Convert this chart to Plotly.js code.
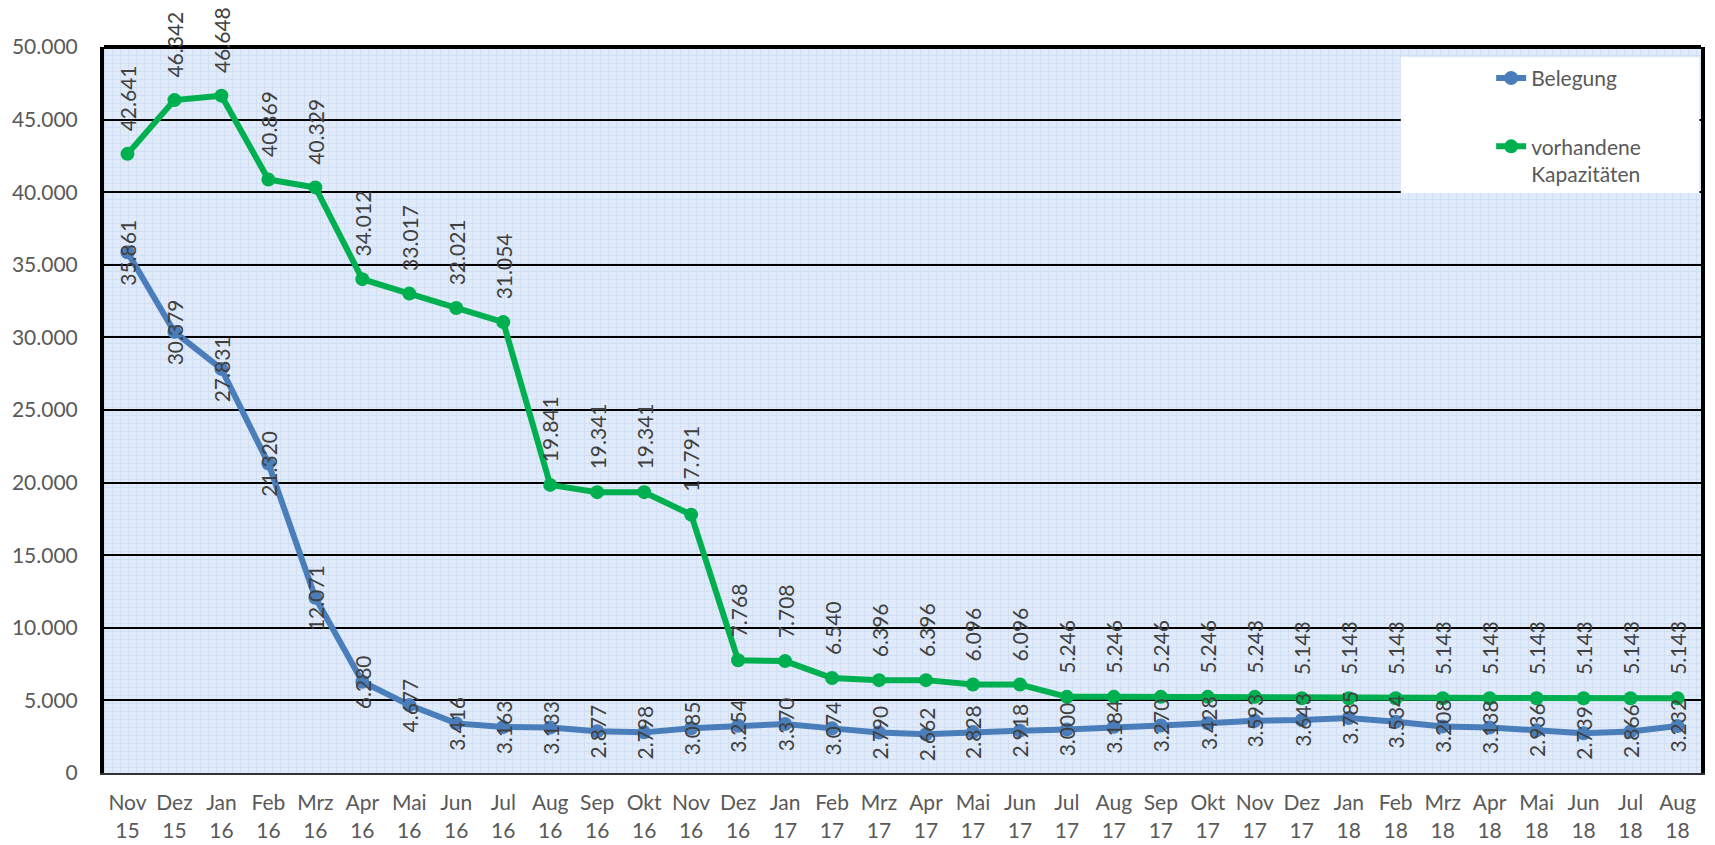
<!DOCTYPE html>
<html>
<head>
<meta charset="utf-8">
<script src="https://cdn.plot.ly/plotly-3.0.1.min.js"></script>
<style>
html,body{margin:0;padding:0;background:#fff;}
#chart{width:1715px;height:845px;}
</style>
</head>
<body>
<div id="chart"></div>
<script>
var months = ["Nov 15","Dez 15","Jan 16","Feb 16","Mrz 16","Apr 16","Mai 16","Jun 16","Jul 16","Aug 16","Sep 16","Okt 16","Nov 16","Dez 16","Jan 17","Feb 17","Mrz 17","Apr 17","Mai 17","Jun 17","Jul 17","Aug 17","Sep 17","Okt 17","Nov 17","Dez 17","Jan 18","Feb 18","Mrz 18","Apr 18","Mai 18","Jun 18","Jul 18","Aug 18"];
var belegung = [35861,30379,27831,21320,12071,6280,4677,3416,3163,3133,2877,2798,3085,3254,3370,3074,2790,2662,2828,2918,3000,3184,3270,3428,3593,3643,3785,3534,3208,3138,2936,2739,2866,3232];
var kapazitaeten = [42641,46342,46648,40869,40329,34012,33017,32021,31054,19841,19341,19341,17791,7768,7708,6540,6396,6396,6096,6096,5246,5246,5246,5246,5243,5143,5143,5143,5143,5143,5143,5143,5143,5143];
var yTicks = [0,5000,10000,15000,20000,25000,30000,35000,40000,45000,50000];

var cats = months.map(function(m){ return m.replace(" ","<br>"); });
function fmt(v){ return String(v).replace(/\B(?=(\d{3})+(?!\d))/g, "."); }

var blue = "#4a7ebb", green = "#00b050";
var traces = [
  {x: cats, y: belegung, type: "scatter", mode: "lines+markers", name: "Belegung",
   legendgroup: "a", line: {color: blue, width: 6}, marker: {color: blue, size: 14}},
  {x: cats, y: kapazitaeten, type: "scatter", mode: "lines+markers", name: "vorhandene<br>Kapazitäten",
   legendgroup: "b", line: {color: green, width: 6}, marker: {color: green, size: 14}}
];

var labelFont = {family: "Lato, 'Open Sans', sans-serif", size: 21, color: "#404040"};
var annotations = [];
cats.forEach(function(c, i){
  annotations.push({x: c, y: belegung[i], xref: "x", yref: "y", text: fmt(belegung[i]),
    showarrow: false, textangle: -90, xanchor: "center", yanchor: "middle", font: labelFont});
  annotations.push({x: c, y: kapazitaeten[i], xref: "x", yref: "y", text: fmt(kapazitaeten[i]),
    showarrow: false, textangle: -90, xanchor: "center", yanchor: "bottom", yshift: 21, font: labelFont});
});

var svg = '<svg xmlns="http://www.w3.org/2000/svg" width="1597" height="726" preserveAspectRatio="none">' +
  '<defs><pattern id="p" width="8" height="8" patternUnits="userSpaceOnUse">' +
  '<rect width="8" height="8" fill="#e0eaf8"/>' +
  '<rect x="0" y="0" width="8" height="1" fill="#d0dff4"/>' +
  '<rect x="0" y="0" width="1" height="8" fill="#d0dff4"/>' +
  '<rect x="4" y="4" width="1" height="1" fill="#d8e4f6"/>' +
  '</pattern></defs><rect width="1597" height="726" fill="url(#p)"/></svg>';
var bgUri = "data:image/svg+xml;charset=utf-8," + encodeURIComponent(svg);

var tickFont = {family: "Lato, 'Open Sans', sans-serif", size: 21, color: "#595959"};
var layout = {
  width: 1715, height: 845,
  margin: {l: 104, r: 14, t: 47, b: 72, pad: 0},
  paper_bgcolor: "#ffffff",
  plot_bgcolor: "#dde8f8",
  separators: ",.",
  showlegend: true,
  legend: {x: 0.8686, y: 0.985, xanchor: "left", yanchor: "top", bgcolor: "rgba(0,0,0,0)",
    font: {family: "Lato, 'Open Sans', sans-serif", size: 21, color: "#595959"},
    traceorder: "grouped", tracegroupgap: 38, valign: "top"},
  xaxis: {type: "category", range: [-0.5, 33.5], showgrid: false, zeroline: false,
    showline: true, linecolor: "#333333", linewidth: 2, ticks: "", tickfont: tickFont,
    ticklabelstandoff: 10, fixedrange: true},
  yaxis: {range: [0, 50000], tickvals: yTicks, tickformat: ",.0f", showgrid: true,
    gridcolor: "#000000", gridwidth: 2, zeroline: false, showline: true, mirror: true,
    linecolor: "#000000", linewidth: 4, ticks: "", tickfont: tickFont,
    ticklabelstandoff: 18, fixedrange: true},
  images: [{source: bgUri, xref: "paper", yref: "paper", x: 0, y: 1, sizex: 1, sizey: 1,
    sizing: "stretch", xanchor: "left", yanchor: "top", layer: "below"}],
  shapes: [
    {type: "rect", xref: "paper", yref: "paper", x0: 0.812, x1: 0.999, y0: 0.799, y1: 0.986,
     fillcolor: "#ffffff", line: {width: 0}, layer: "above"},
    {type: "line", xref: "paper", yref: "paper", x0: 0, x1: 1, y0: 1, y1: 1,
     line: {color: "#000000", width: 4}, layer: "above"}
  ],
  annotations: annotations
};

Plotly.newPlot("chart", traces, layout, {displayModeBar: false, staticPlot: true});
</script>
</body>
</html>
